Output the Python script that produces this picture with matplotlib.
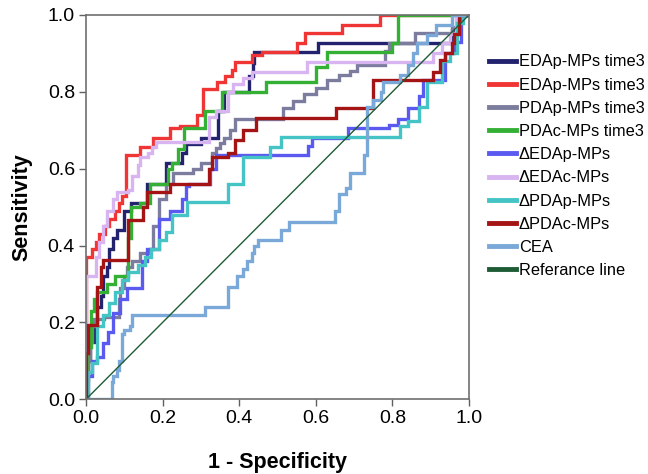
import matplotlib
matplotlib.use("Agg")
import matplotlib.pyplot as plt

plt.rcParams['font.family'] = ['Liberation Sans', 'DejaVu Sans']

## ROC staircase corners: at each fpr the curve rises to tpr, then runs right
labels = ["EDAp-MPs time3", "EDAp-MPs time3", "PDAp-MPs time3", "PDAc-MPs time3",
          "\u0394EDAp-MPs", "\u0394EDAc-MPs", "\u0394PDAp-MPs", "\u0394PDAc-MPs", "CEA"]
colors = ["#22226e", "#f03535", "#7c7c9e", "#34b034", "#5a5af0",
          "#d8b4f0", "#44c4c4", "#a51414", "#7aa8d8"]

navy_fpr = [0, 0, 0.01, 0.02, 0.03, 0.04, 0.045, 0.055, 0.06, 0.07, 0.08, 0.1, 0.117, 0.16,
            0.21, 0.25, 0.26, 0.3, 0.345, 0.36, 0.425, 0.435, 0.44, 0.605, 0.955, 0.975, 1.0]
navy_tpr = [0, 0.1, 0.15, 0.2, 0.24, 0.27, 0.32, 0.345, 0.39, 0.42, 0.44, 0.49, 0.51, 0.56,
            0.615, 0.64, 0.665, 0.68, 0.75, 0.8, 0.84, 0.875, 0.904, 0.926, 0.96, 1.0, 1.0]

red_fpr = [0, 0, 0.015, 0.025, 0.035, 0.05, 0.06, 0.075, 0.085, 0.095, 0.104, 0.14, 0.175, 0.22,
           0.245, 0.29, 0.306, 0.342, 0.363, 0.38, 0.39, 0.433, 0.46, 0.55, 0.572, 0.668, 0.768, 1.0]
red_tpr = [0, 0.37, 0.39, 0.41, 0.43, 0.45, 0.47, 0.49, 0.51, 0.53, 0.635, 0.657, 0.68, 0.705,
           0.71, 0.74, 0.807, 0.826, 0.84, 0.856, 0.878, 0.895, 0.904, 0.926, 0.952, 0.973, 1.0, 1.0]

gray_fpr = [0, 0, 0.005, 0.01, 0.015, 0.02, 0.047, 0.085, 0.09, 0.1, 0.107, 0.12, 0.14, 0.167,
            0.175, 0.19, 0.21, 0.227, 0.28, 0.3, 0.33, 0.34, 0.35, 0.36, 0.375, 0.39, 0.515, 0.54,
            0.57, 0.6, 0.63, 0.66, 0.69, 0.707, 0.78, 0.79, 0.86, 0.955, 0.975, 1.0]
gray_tpr = [0, 0.05, 0.1, 0.15, 0.19, 0.21, 0.215, 0.26, 0.29, 0.32, 0.345, 0.36, 0.38, 0.39,
            0.45, 0.52, 0.56, 0.59, 0.6, 0.615, 0.64, 0.655, 0.668, 0.68, 0.7, 0.73, 0.757, 0.775,
            0.795, 0.81, 0.83, 0.845, 0.855, 0.87, 0.905, 0.926, 0.952, 0.97, 1.0, 1.0]

green_fpr = [0, 0, 0.005, 0.013, 0.02, 0.03, 0.055, 0.075, 0.11, 0.117, 0.14, 0.167, 0.213, 0.225,
             0.24, 0.255, 0.31, 0.355, 0.47, 0.6, 0.63, 0.8, 0.815, 1.0]
green_tpr = [0, 0.07, 0.135, 0.23, 0.26, 0.28, 0.3, 0.32, 0.42, 0.5, 0.51, 0.56, 0.6, 0.615,
             0.65, 0.705, 0.75, 0.8, 0.825, 0.865, 0.904, 0.926, 1.0, 1.0]

blue_fpr = [0, 0.005, 0.015, 0.03, 0.045, 0.057, 0.07, 0.09, 0.107, 0.147, 0.16, 0.19, 0.22, 0.25,
            0.26, 0.27, 0.325, 0.34, 0.58, 0.59, 0.685, 0.79, 0.815, 0.84, 0.87, 0.88, 0.937, 0.96,
            0.98, 1.0]
blue_tpr = [0, 0.06, 0.1, 0.11, 0.146, 0.175, 0.225, 0.26, 0.29, 0.36, 0.39, 0.47, 0.49, 0.52,
            0.555, 0.56, 0.6, 0.635, 0.66, 0.68, 0.705, 0.715, 0.73, 0.757, 0.79, 0.83, 0.9, 0.93,
            1.0, 1.0]

lav_fpr = [0, 0, 0.025, 0.035, 0.045, 0.055, 0.07, 0.08, 0.11, 0.12, 0.135, 0.14, 0.161, 0.172,
           0.184, 0.32, 0.34, 0.37, 0.385, 0.41, 0.433, 0.578, 0.905, 0.93, 0.95, 0.965, 1.0]
lav_tpr = [0, 0.32, 0.37, 0.41, 0.45, 0.49, 0.52, 0.54, 0.545, 0.58, 0.61, 0.63, 0.64, 0.656,
           0.67, 0.735, 0.75, 0.8, 0.82, 0.835, 0.852, 0.878, 0.9, 0.926, 0.95, 1.0, 1.0]

cyan_fpr = [0, 0.005, 0.015, 0.03, 0.045, 0.06, 0.075, 0.095, 0.11, 0.135, 0.155, 0.17, 0.19,
            0.21, 0.225, 0.265, 0.37, 0.41, 0.48, 0.51, 0.82, 0.84, 0.87, 0.89, 0.93, 0.95, 0.97,
            0.985, 1.0]
cyan_tpr = [0, 0.07, 0.095, 0.19, 0.22, 0.25, 0.28, 0.31, 0.33, 0.35, 0.37, 0.39, 0.415,
            0.435, 0.48, 0.513, 0.56, 0.63, 0.657, 0.683, 0.71, 0.725, 0.76, 0.825, 0.88, 0.9, 0.98,
            1.0, 1.0]

dred_fpr = [0, 0, 0.005, 0.028, 0.04, 0.045, 0.11, 0.15, 0.16, 0.22, 0.32, 0.33, 0.37, 0.39,
            0.41, 0.445, 0.653, 0.75, 0.905, 0.925, 0.937, 0.955, 0.96, 0.975, 1.0]
dred_tpr = [0, 0.12, 0.193, 0.293, 0.345, 0.362, 0.466, 0.5, 0.54, 0.56, 0.6, 0.63, 0.64, 0.675,
            0.7, 0.731, 0.757, 0.83, 0.852, 0.883, 0.9, 0.926, 0.95, 1.0, 1.0]

cea_fpr = [0, 0.067, 0.07, 0.08, 0.087, 0.093, 0.1, 0.115, 0.12, 0.31, 0.37, 0.395, 0.41, 0.42,
           0.433, 0.44, 0.45, 0.51, 0.53, 0.65, 0.66, 0.68, 0.69, 0.725, 0.735, 0.75, 0.77, 0.775,
           0.82, 0.84, 0.855, 0.865, 0.89, 0.915, 0.955, 1.0]
cea_tpr = [0, 0.046, 0.06, 0.075, 0.1, 0.17, 0.18, 0.19, 0.22, 0.24, 0.293, 0.32, 0.34, 0.36,
           0.38, 0.4, 0.414, 0.44, 0.462, 0.49, 0.535, 0.55, 0.59, 0.635, 0.76, 0.78, 0.8, 0.826,
           0.845, 0.87, 0.9, 0.926, 0.947, 0.973, 1.0, 1.0]

curves = [(navy_fpr, navy_tpr), (red_fpr, red_tpr), (gray_fpr, gray_tpr), (green_fpr, green_tpr),
          (blue_fpr, blue_tpr), (lav_fpr, lav_tpr), (cyan_fpr, cyan_tpr), (dred_fpr, dred_tpr),
          (cea_fpr, cea_tpr)]

ref_line = [0, 1]

fig = plt.figure(figsize=(6.48, 4.74), dpi=100)
ax = fig.add_axes([0.1327, 0.1576, 0.591, 0.8108])

for (fx, ty), lab, col in zip(curves, labels, colors):
    ax.plot(fx, ty, drawstyle='steps-post', color=col, lw=2.4, label=lab,
            solid_joinstyle='miter')
ax.plot(ref_line, ref_line, color="#1e5c36", lw=1.0, label="Referance line")

ax.set_xlim(0, 1)
ax.set_ylim(0, 1)
ax.set_xticks([0, 0.2, 0.4, 0.6, 0.8, 1.0])
ax.set_yticks([0, 0.2, 0.4, 0.6, 0.8, 1.0])
ax.set_xticklabels(["0.0", "0.2", "0.4", "0.6", "0.8", "1.0"])
ax.set_yticklabels(["0.0", "0.2", "0.4", "0.6", "0.8", "1.0"])
ax.tick_params(direction='out', length=5, width=1, color="#606060", labelsize=14, pad=3)
for sp in ax.spines.values():
    sp.set_color("#707070")
    sp.set_linewidth(1.2)

ax.set_xlabel("1 - Specificity", fontsize=15.5, fontweight='bold', labelpad=18)
ax.set_ylabel("Sensitivity", fontsize=15.5, fontweight='bold', labelpad=11)

leg = fig.legend(loc='upper left', bbox_to_anchor=(0.744, 0.899), frameon=False,
                 fontsize=11.8, handlelength=1.65, handletextpad=0.2, labelspacing=0.5,
                 borderaxespad=0)
for h in leg.get_lines():
    h.set_linewidth(3.5)

fig.savefig("out.png", dpi=100)
